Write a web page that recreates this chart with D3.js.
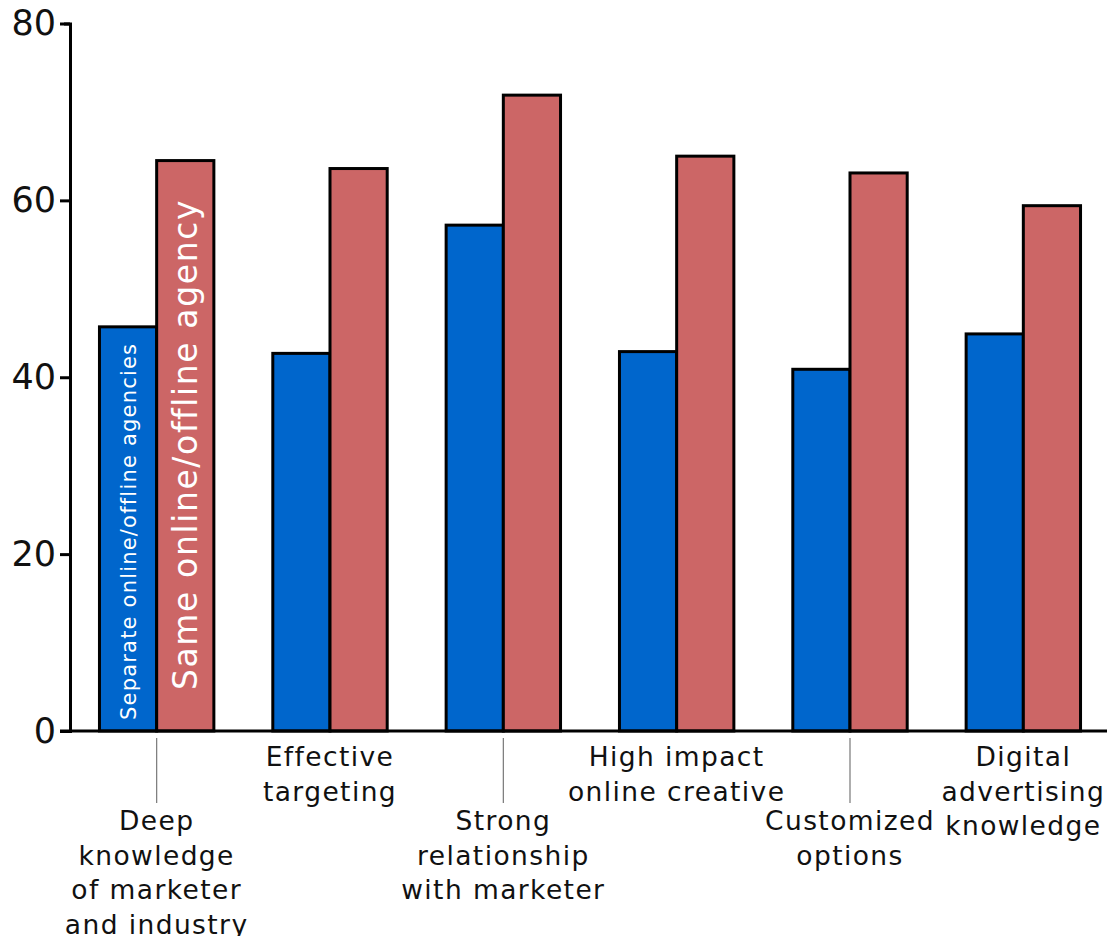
<!DOCTYPE html>
<html>
<head>
<meta charset="utf-8">
<script src="https://cdn.jsdelivr.net/npm/d3@7"></script>
<style>
  body { margin: 0; background: #fff; }
  svg { display: block; font-family: "DejaVu Sans", Verdana, sans-serif; }
</style>
</head>
<body>
<svg id="chart" width="1107" height="936"></svg>
<script>
const categories = [
    ["Deep", "knowledge", "of marketer", "and industry"],
    ["Effective", "targeting"],
    ["Strong", "relationship", "with marketer"],
    ["High impact", "online creative"],
    ["Customized", "options"],
    ["Digital", "advertising", "knowledge"]
];
const separateValues = [45.7, 42.7, 57.2, 42.9, 40.9, 44.9];
const sameValues = [64.5, 63.6, 71.9, 65.0, 63.1, 59.4];
const seriesNames = ["Separate online/offline agencies", "Same online/offline agency"];
const yTicks = [0, 20, 40, 60, 80];

const svg = d3.select("#chart");
const width = +svg.attr("width");

const x = d3.scaleBand()
    .domain(d3.range(categories.length))
    .range([70, 1110])
    .paddingInner(0.34)
    .paddingOuter(0.17);

const xSub = d3.scaleBand()
    .domain([0, 1])
    .range([0, x.bandwidth()]);

const y = d3.scaleLinear()
    .domain([0, 80])
    .range([731, 23.5]);

const colours = ["#0066cc", "#cc6666"];

// bars
const groups = svg.selectAll(".group")
    .data(categories.map((c, i) => ({i, vals: [separateValues[i], sameValues[i]]})))
    .join("g")
        .attr("class", "group")
        .attr("transform", d => `translate(${x(d.i)},0)`);

groups.selectAll("rect")
    .data(d => d.vals)
    .join("rect")
        .attr("x", (v, j) => xSub(j))
        .attr("y", v => y(v))
        .attr("width", xSub.bandwidth())
        .attr("height", v => y(0) - y(v))
        .attr("fill", (v, j) => colours[j])
        .attr("stroke", "#000")
        .attr("stroke-width", 3);

// series names written inside the first pair of bars
const firstX = x(0);
svg.append("text")
    .attr("transform", `translate(${firstX + xSub(0) + xSub.bandwidth() / 2 + 8},720) rotate(-90)`)
    .attr("fill", "#fff")
    .attr("font-size", 21)
    .attr("letter-spacing", 1.2)
    .text(seriesNames[0]);

svg.append("text")
    .attr("transform", `translate(${firstX + xSub(1) + xSub.bandwidth() / 2 + 12},690) rotate(-90)`)
    .attr("fill", "#fff")
    .attr("font-size", 33)
    .attr("letter-spacing", 1.6)
    .text(seriesNames[1]);

// y axis
const yAxis = svg.append("g")
    .attr("transform", "translate(70,0)")
    .call(d3.axisLeft(y).tickValues(yTicks).tickSize(10).tickSizeOuter(6).tickPadding(4));

yAxis.select(".domain").attr("stroke-width", 3);
yAxis.selectAll(".tick line").attr("stroke-width", 3);
yAxis.selectAll(".tick text")
    .attr("font-size", 35)
    .attr("font-family", "DejaVu Sans, Verdana, sans-serif")
    .attr("fill", "#111");

// baseline
svg.append("line")
    .attr("x1", 60).attr("x2", width)
    .attr("y1", y(0)).attr("y2", y(0))
    .attr("stroke", "#000")
    .attr("stroke-width", 3);

// category labels, staggered in two rows
const labels = svg.selectAll(".cat")
    .data(categories)
    .join("g")
        .attr("class", "cat")
        .attr("transform", (d, i) => `translate(${x(i) + x.bandwidth() / 2},0)`);

labels.filter((d, i) => i % 2 === 0)
    .append("line")
        .attr("y1", 738).attr("y2", 803)
        .attr("stroke", "#777")
        .attr("stroke-width", 1.2);

labels.append("text")
    .attr("text-anchor", "middle")
    .attr("font-size", 26.5)
    .attr("letter-spacing", 1.4)
    .attr("fill", "#111")
    .selectAll("tspan")
    .data((d, i) => d.map(line => ({line, low: i % 2 === 0})))
    .join("tspan")
        .attr("x", 0)
        .attr("y", (t, k) => (t.low ? 830 : 766) + k * 34.7)
        .text(t => t.line);
</script>
</body>
</html>
